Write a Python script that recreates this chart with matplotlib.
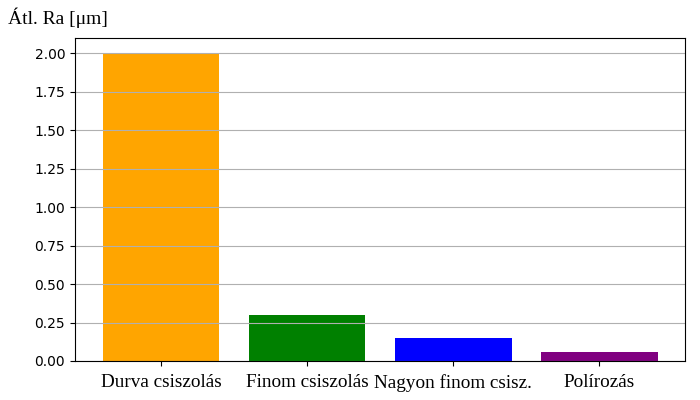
import matplotlib
matplotlib.use("Agg")
import matplotlib.pyplot as plt

# surface roughness per finishing step
steps = ["Durva csiszolás", "Finom csiszolás", "Nagyon finom csisz.", "Polírozás"]
ra_values = [2.0, 0.30, 0.15, 0.06]
bar_colors = ["orange", "green", "blue", "purple"]

fig = plt.figure(figsize=(7, 4), dpi=100)
ax = fig.add_axes([0.107, 0.0975, 0.872, 0.8075])

ax.bar(steps, ra_values, color=bar_colors, width=0.8)
ax.grid(True, axis="y")

ax.set_ylabel("Átl. Ra [μm]", family="Liberation Serif", fontsize=14,
              rotation=0, ha="left", va="center")
ax.yaxis.set_label_coords(-0.11, 1.062)

ax.set_yticks([0, 0.25, 0.5, 0.75, 1.0, 1.25, 1.5, 1.75, 2.0])
ax.set_yticklabels([f"{v:.2f}" for v in ax.get_yticks()])
ax.tick_params(axis="x", pad=6)
for lbl in ax.get_xticklabels():
    lbl.set_family("Liberation Serif")
    lbl.set_fontsize(13.8)

fig.savefig("out.png", dpi=100)
